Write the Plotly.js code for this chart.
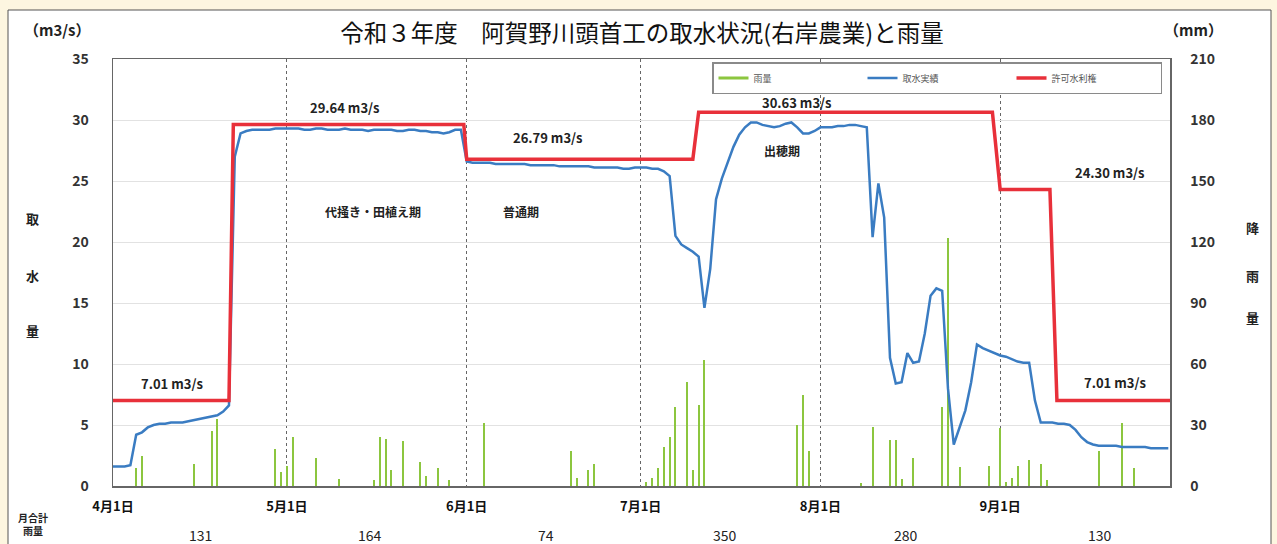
<!DOCTYPE html>
<html>
<head>
<meta charset="utf-8">
<script src="https://cdn.plot.ly/plotly-3.0.1.min.js"></script>
<style>
html,body{margin:0;padding:0;background:#fdf6e0;}
#chart{width:1277px;height:544px;}
</style>
</head>
<body>
<div id="chart"></div>
<script>
// ---------------- DATA ----------------
const months = ['2021-04','2021-05','2021-06','2021-07','2021-08','2021-09'];
const tickDates = ['2021-04-01','2021-05-01','2021-06-01','2021-07-01','2021-08-01','2021-09-01'];
const tickLabels = ['4月1日','5月1日','6月1日','7月1日','8月1日','9月1日'];
const monthlyRain = [131,164,74,350,280,130];

// daily intake (取水実績, m3/s)
const intakeApr = [1.6,1.6,1.6,1.7,4.2,4.4,4.8,5.0,5.1,5.1,5.2,5.2,5.2,5.3,5.4,5.5,5.6,5.7,5.8,6.1,6.6,27.0,28.9,29.1,29.2,29.2,29.2,29.2,29.3,29.3];
const intakeMay = [29.3,29.3,29.3,29.2,29.2,29.3,29.3,29.2,29.2,29.2,29.3,29.2,29.2,29.2,29.1,29.2,29.2,29.2,29.2,29.1,29.1,29.2,29.2,29.1,29.1,29.0,29.0,28.9,29.0,29.2,29.2];
const intakeJun = [26.6,26.5,26.5,26.5,26.5,26.4,26.4,26.4,26.4,26.4,26.4,26.3,26.3,26.3,26.3,26.3,26.2,26.2,26.2,26.2,26.2,26.2,26.1,26.1,26.1,26.1,26.1,26.0,26.0,26.1];
const intakeJul = [26.1,26.1,26.0,26.0,25.8,25.4,20.5,19.8,19.5,19.2,18.8,14.6,17.8,23.5,25.2,26.5,27.8,28.8,29.4,29.8,29.8,29.6,29.5,29.4,29.5,29.7,29.8,29.4,28.9,28.9,29.1];
const intakeAug = [29.4,29.4,29.4,29.5,29.5,29.6,29.6,29.5,29.4,20.4,24.8,22.0,10.5,8.4,8.5,10.9,10.1,10.2,12.5,15.6,16.2,16.0,8.0,3.4,4.8,6.2,8.5,11.6,11.3,11.1,10.9];
const intakeSep = [10.7,10.6,10.4,10.2,10.1,10.1,7.0,5.2,5.2,5.2,5.1,5.1,5.0,4.6,4.0,3.6,3.4,3.3,3.3,3.3,3.3,3.2,3.2,3.2,3.2,3.2,3.1,3.1,3.1,3.1];

// permitted water right (許可水利権, m3/s)
const permitDates = ['2021-04-01','2021-04-21','2021-04-21 18:00','2021-05-31 12:00','2021-06-01','2021-07-10','2021-07-11','2021-08-30 16:00','2021-09-01','2021-09-09 14:00','2021-09-10 19:00','2021-09-30 12:00'];
const permitValues = [7.01,7.01,29.64,29.64,26.79,26.79,30.63,30.63,24.30,24.30,7.01,7.01];
const permitLabelValues = [7.01,29.64,26.79,30.63,24.30,7.01];

// daily rainfall (雨量, mm)
const rainDates = ['2021-04-05','2021-04-06','2021-04-15','2021-04-18','2021-04-19','2021-04-29','2021-04-30',
  '2021-05-01','2021-05-02','2021-05-06','2021-05-10','2021-05-16','2021-05-17','2021-05-18','2021-05-19','2021-05-21','2021-05-24','2021-05-25','2021-05-27','2021-05-29',
  '2021-06-04','2021-06-19','2021-06-20','2021-06-22','2021-06-23',
  '2021-07-02','2021-07-03','2021-07-04','2021-07-05','2021-07-06','2021-07-07','2021-07-09','2021-07-10','2021-07-11','2021-07-12','2021-07-28','2021-07-29','2021-07-30',
  '2021-08-08','2021-08-10','2021-08-13','2021-08-14','2021-08-15','2021-08-17','2021-08-22','2021-08-23','2021-08-25','2021-08-30',
  '2021-09-01','2021-09-02','2021-09-03','2021-09-04','2021-09-06','2021-09-08','2021-09-09','2021-09-18','2021-09-22','2021-09-24'];
const rainMm = [9,15,11,27,33,18,7,
  10,24,14,3.5,3,24,23,8,22,12,5,9,3,
  31,17,4,8,11,
  2,4,9,19,24,39,51,8,40,62,30,45,17,
  1.5,29,22.6,22.6,3.5,14,39,122,9.5,10,
  28.5,2,4,10,13,11,3,17,31,9];

const periodLabels = ['代掻き・田植え期','普通期','出穂期'];

// ---------------- BUILD ----------------
const intakeByMonth = [intakeApr,intakeMay,intakeJun,intakeJul,intakeAug,intakeSep];
const intakeX = [], intakeY = [];
intakeByMonth.forEach((arr,m)=>arr.forEach((v,i)=>{
  intakeX.push(months[m]+'-'+String(i+1).padStart(2,'0'));
  intakeY.push(v);
}));

const F = 'Noto Sans CJK JP, Noto Sans, sans-serif';
const GREEN = '#8cc63f', BLUE = '#3a7cc2', RED = '#e8303a';

const traces = [
  {type:'bar', x:rainDates, y:rainMm, yaxis:'y', xaxis:'x', name:'雨量', showlegend:false,
   marker:{color:GREEN, line:{width:0}}, width:30000000, hoverinfo:'x+y'},
  {type:'scatter', mode:'lines', x:[null], y:[null], yaxis:'y2', name:'雨量',
   line:{color:GREEN, width:3}},
  {type:'scatter', mode:'lines', x:intakeX, y:intakeY, yaxis:'y2', name:'取水実績',
   line:{color:BLUE, width:2.5}},
  {type:'scatter', mode:'lines', x:permitDates, y:permitValues, yaxis:'y2', name:'許可水利権',
   line:{color:RED, width:3.5}}
];

// pixel helpers for layout positions (plot area 113..1170 x 59..486)
const PX = px => (px-113)/1057;
const PY = py => (486-py)/427;

const ann = [];
function addText(text, px, py, size, opts){
  ann.push(Object.assign({text:text, xref:'paper', yref:'paper', x:PX(px), y:PY(py),
    xanchor:'center', yanchor:'middle', showarrow:false,
    font:{family:F, size:size, color:'#222', weight:'bold'}}, opts||{}));
}
const lbl = v => v.toFixed(2)+' m3/s';
addText(lbl(permitLabelValues[0]), 172, 383, 13);
addText(lbl(permitLabelValues[1]), 345, 107, 13);
addText(lbl(permitLabelValues[2]), 548, 137, 13);
addText(lbl(permitLabelValues[3]), 797, 102, 13);
addText(lbl(permitLabelValues[4]), 1110, 172, 13);
addText(lbl(permitLabelValues[5]), 1115, 382, 13);
addText(periodLabels[0], 373, 212, 12);
addText(periodLabels[1], 521, 212, 12);
addText(periodLabels[2], 782, 150, 12);
// axis titles
['取','水','量'].forEach((c,i)=>addText(c, 32, [218,275,330][i], 13));
['降','雨','量'].forEach((c,i)=>addText(c, 1252, [227,275,317][i], 13));
addText('（m3/s）', 57, 30, 15);
addText('（mm）', 1193, 30, 15);
addText('月合計<br>雨量', 33, 524, 10, {});
// monthly totals
const totalPx = [200,370,546,725,906,1100];
monthlyRain.forEach((v,i)=>addText(String(v), totalPx[i], 535, 14, {font:{family:F,size:14,color:'#222'}}));

const layout = {
  width:1277, height:544,
  paper_bgcolor:'#fdf6e0', plot_bgcolor:'#ffffff',
  margin:{l:113, r:107, t:59, b:58, pad:0, autoexpand:false},
  title:{text:'令和３年度　阿賀野川頭首工の取水状況(右岸農業)と雨量', x:PX(642), xref:'paper',
    xanchor:'center', y:1-34/544, yanchor:'middle', yref:'container',
    font:{family:F, size:23.5, color:'#111'}},
  showlegend:true,
  legend:{orientation:'h', x:PX(712), xanchor:'left', y:PY(62), yanchor:'top',
    bgcolor:'#ffffff', bordercolor:'#8a8a8a', borderwidth:1.5,
    font:{family:F, size:9, color:'#555'}, entrywidth:104, entrywidthmode:'pixels',
    itemwidth:30, tracegroupgap:0},
  bargap:0,
  xaxis:{type:'date', range:['2021-04-01','2021-09-30 07:00'], automargin:false,
    tickmode:'array', tickvals:tickDates, ticktext:tickLabels,
    showgrid:true, gridcolor:'#666', griddash:'dot', gridwidth:1,
    showline:true, linecolor:'#666', linewidth:1.5, mirror:true,
    ticks:'', zeroline:false,
    tickfont:{family:F, size:13, color:'#111', weight:'bold'}, ticklabelstandoff:8},
  yaxis:{range:[0,210], dtick:30, tick0:0, side:'right', automargin:false,
    showgrid:true, gridcolor:'#e2e2e2', gridwidth:1,
    showline:true, linecolor:'#666', linewidth:1.5, zeroline:false, ticks:'',
    tickfont:{family:F, size:14, color:'#333', weight:'bold'}, ticklabelstandoff:16},
  yaxis2:{range:[0,35], dtick:5, tick0:0, side:'left', overlaying:'y', automargin:false,
    showgrid:false, showline:true, linecolor:'#666', linewidth:1.5, zeroline:false, ticks:'',
    tickfont:{family:F, size:14, color:'#333', weight:'bold'}, ticklabelstandoff:20},
  annotations:ann,
  shapes:[
    {type:'rect', xref:'paper', yref:'paper', x0:PX(8), x1:PX(1271), y0:PY(600), y1:PY(10),
     fillcolor:'#ffffff', line:{color:'#555', width:1}, layer:'below'}
  ]
};

Plotly.newPlot('chart', traces, layout, {displayModeBar:false, staticPlot:true});
</script>
</body>
</html>
